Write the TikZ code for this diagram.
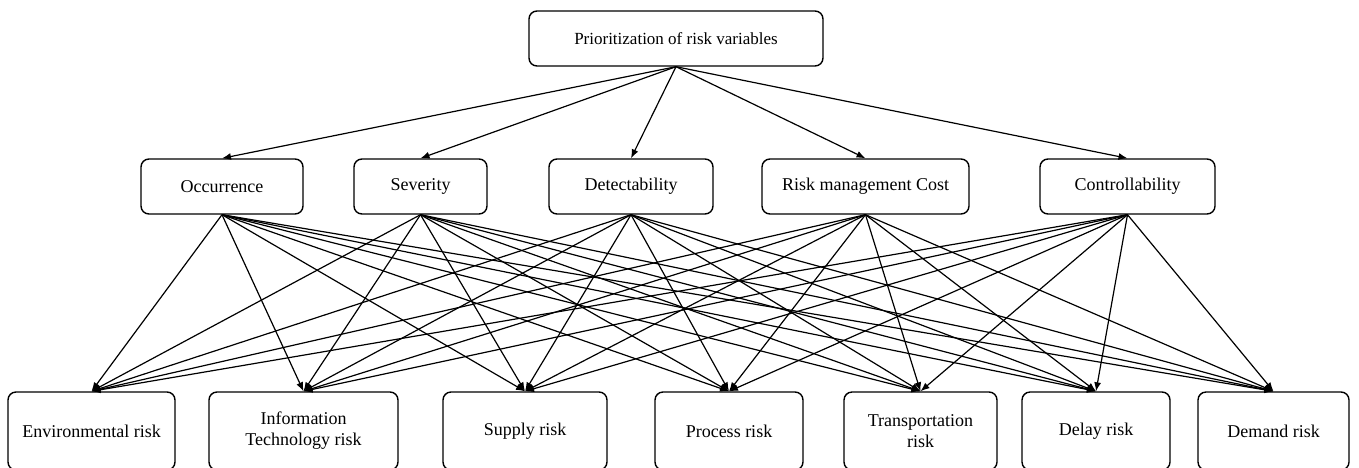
\documentclass[tikz,border=0pt]{standalone}
\usepackage{fontspec}
\setmainfont{Liberation Serif}
\usetikzlibrary{arrows.meta}

\begin{document}
\begin{tikzpicture}[x=0.5pt, y=-0.5pt, font=\fontsize{9}{10.5}\selectfont,
  box/.style={draw, rectangle, rounded corners=4pt, line width=0.7pt, align=center, inner sep=0pt},
  link/.style={-{Latex[length=4.5pt,width=3.5pt]}, line width=0.6pt}]
  \useasboundingbox (0,0) rectangle (1359,467);
  % goal
  \node[box, font=\fontsize{8.5}{9.5}\selectfont, minimum width=147pt, minimum height=27.5pt] (goal) at (676,38.5) {Prioritization of risk variables};
  % criteria
  \node[box, minimum width=81pt, minimum height=27.5pt] (occ) at (222,186.5) {Occurrence};
  \node[box, minimum width=66.5pt, minimum height=27.5pt] (sev) at (420.5,186.5) {Severity};
  \node[box, minimum width=82pt, minimum height=27.5pt] (det) at (631,186.5) {Detectability};
  \node[box, minimum width=103.5pt, minimum height=27.5pt] (cost) at (865.5,186.5) {Risk management Cost};
  \node[box, minimum width=87.5pt, minimum height=27.5pt] (ctrl) at (1127.5,186.5) {Controllability};
  % risks
  \node[box, minimum width=83.5pt, minimum height=39pt] (env) at (91.5,431) {Environmental risk};
  \node[box, minimum width=94.5pt, minimum height=39pt] (it) at (303.5,431) {Information\\Technology risk};
  \node[box, minimum width=82pt, minimum height=39pt] (sup) at (525,431) {Supply risk};
  \node[box, minimum width=74pt, minimum height=39pt] (proc) at (729,431) {Process risk};
  \node[box, minimum width=76.5pt, minimum height=39pt] (trans) at (920.5,431) {Transportation\\risk};
  \node[box, minimum width=74pt, minimum height=39pt] (delay) at (1096,431) {Delay risk};
  \node[box, minimum width=75.5pt, minimum height=39pt] (dem) at (1273.5,431) {Demand risk};
  % links
  \foreach \c in {occ,sev,det,cost,ctrl}
    \draw[link] (goal.south) -- (\c.north);
  \foreach \c in {occ,sev,det,cost,ctrl}
    \foreach \r in {env,it,sup,proc,trans,delay,dem}
      \draw[link] (\c.south) -- (\r.north);
\end{tikzpicture}
\end{document}
